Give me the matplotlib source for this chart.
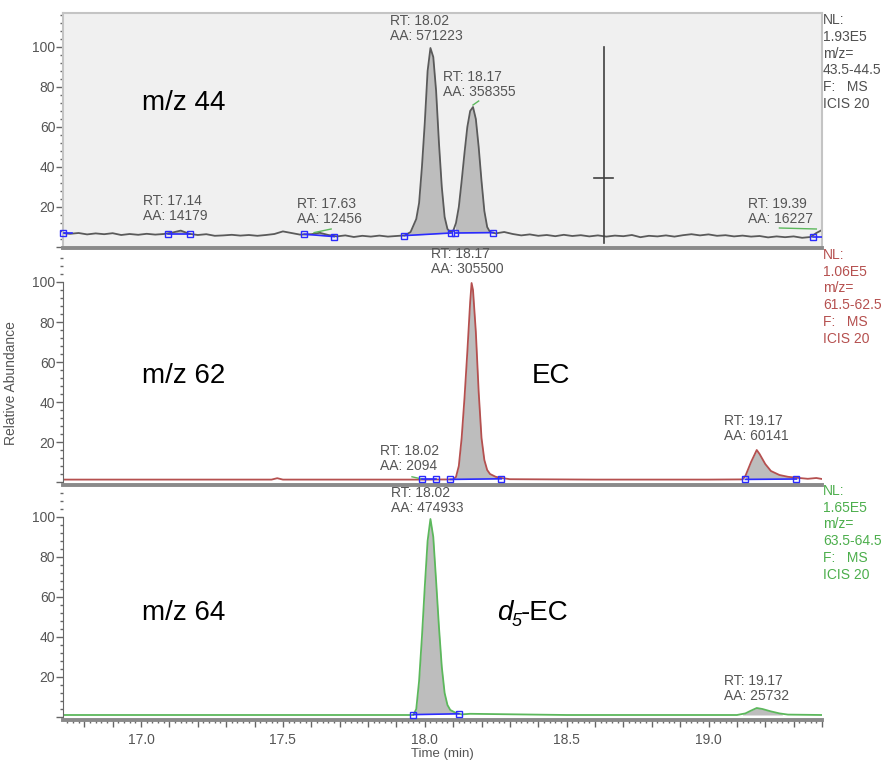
import numpy as np
import matplotlib
matplotlib.use('Agg')
import matplotlib.pyplot as plt
from matplotlib.ticker import MultipleLocator, FuncFormatter

plt.rcParams['font.family'] = ['Liberation Sans', 'DejaVu Sans']

W, H = 887, 763

# m/z 44 trace (time in min, relative abundance)
t44 = [16.72, 16.75, 16.78, 16.81, 16.84, 16.87, 16.90, 16.93, 16.96, 16.99, 17.02, 17.05,
       17.08, 17.11, 17.14, 17.17, 17.20, 17.23, 17.26, 17.29, 17.32, 17.35, 17.38, 17.41,
       17.44, 17.47, 17.50, 17.53, 17.56, 17.60, 17.63, 17.66, 17.69, 17.72, 17.75, 17.78,
       17.81, 17.84, 17.87, 17.90, 17.93, 17.95, 17.97, 17.98, 17.99, 18.00, 18.01, 18.02,
       18.03, 18.04, 18.05, 18.06, 18.07, 18.08, 18.09, 18.10, 18.11, 18.12, 18.13, 18.14,
       18.15, 18.16, 18.17, 18.18, 18.19, 18.20, 18.21, 18.22, 18.23, 18.25, 18.28, 18.31,
       18.34, 18.37, 18.40, 18.43, 18.46, 18.49, 18.52, 18.55, 18.58, 18.61, 18.64, 18.67,
       18.70, 18.73, 18.76, 18.79, 18.82, 18.85, 18.88, 18.91, 18.94, 18.97, 19.00, 19.03,
       19.06, 19.09, 19.12, 19.15, 19.18, 19.21, 19.24, 19.27, 19.30, 19.33, 19.36, 19.38, 19.40]
y44 = [7.0, 6.6, 7.0, 6.3, 6.8, 6.4, 6.9, 6.0, 6.5, 6.1, 6.6, 6.2,
       6.5, 7.2, 8.2, 6.6, 6.0, 6.4, 5.6, 5.8, 6.1, 5.7, 6.0, 5.6,
       6.0, 6.5, 7.8, 7.0, 6.2, 6.4, 7.1, 6.0, 5.3, 5.8, 5.0, 5.6,
       5.2, 5.7, 5.2, 5.5, 5.8, 7.5, 14, 22, 40, 62, 88, 99.5,
       95, 78, 52, 30, 15, 9, 7.5, 8, 12, 20, 33, 47,
       60, 68, 70, 64, 50, 33, 18, 10, 7.5, 6.8, 7.5, 6.5,
       5.8, 6.3, 5.6, 6.0, 5.4, 6.1, 5.5, 5.9, 5.3, 5.8, 5.2, 5.7,
       5.4, 6.0, 4.9, 5.6, 5.3, 5.8, 5.2, 5.9, 6.4, 5.8, 6.3, 5.6,
       5.9, 5.3, 5.7, 5.2, 5.5, 4.8, 5.3, 4.9, 5.3, 4.6, 5.0, 7.0, 8.5]

# m/z 62 trace
t62 = [16.72, 17.00, 17.30, 17.46, 17.48, 17.50, 17.80, 18.00, 18.10, 18.11, 18.12, 18.13,
       18.14, 18.15, 18.16, 18.165, 18.17, 18.18, 18.19, 18.20, 18.21, 18.22, 18.23, 18.25,
       18.27, 18.30, 18.60, 19.00, 19.12, 19.13, 19.15, 19.17, 19.18, 19.20, 19.22, 19.25,
       19.28, 19.32, 19.35, 19.38, 19.40]
y62 = [1.2, 1.2, 1.2, 1.2, 1.9, 1.2, 1.2, 1.2, 1.3, 2.5, 8, 22,
       42, 65, 90, 99.5, 96, 75, 45, 22, 11, 6, 4, 2.6,
       2.0, 1.4, 1.2, 1.2, 1.3, 3, 10, 16, 14, 9, 5.5, 3.5,
       2.6, 2.0, 1.6, 2.0, 1.5]

# m/z 64 trace
t64 = [16.72, 17.20, 17.60, 17.96, 17.97, 17.98, 17.99, 18.00, 18.01, 18.02, 18.03, 18.04,
       18.05, 18.06, 18.07, 18.08, 18.09, 18.11, 18.13, 18.16, 18.50, 19.10, 19.13, 19.15,
       19.17, 19.19, 19.22, 19.25, 19.28, 19.40]
y64 = [1.0, 1.0, 1.0, 1.0, 4, 18, 40, 65, 88, 99, 90, 68,
       45, 25, 12, 6, 3.5, 2.0, 1.3, 1.6, 1.0, 1.0, 1.8, 3.2,
       4.5, 4.0, 2.8, 1.8, 1.2, 1.0]

# integration baselines: (start, value, end, value)
base44 = [(17.095, 6.4, 17.173, 6.4), (17.575, 6.4, 17.681, 5.2),
          (17.928, 5.7, 18.093, 7.0), (18.108, 7.0, 18.242, 7.2)]
edge44 = [(16.725, 7.0), (19.367, 5.0)]
base62 = [(17.99, 1.3, 18.04, 1.3), (18.09, 1.3, 18.27, 1.6), (19.13, 1.3, 19.31, 1.5)]
base64 = [(17.96, 1.2, 18.12, 1.6)]
fill64_extra = [(19.12, 1.0, 19.26, 1.0)]

# peak labels: (left px, cap-top px, text)
lab44 = [(143, 197, 'RT: 17.14\nAA: 14179'), (297, 200, 'RT: 17.63\nAA: 12456'),
         (390, 17, 'RT: 18.02\nAA: 571223'), (443, 73, 'RT: 18.17\nAA: 358355'),
         (748, 200, 'RT: 19.39\nAA: 16227')]
lab62 = [(431, 250, 'RT: 18.17\nAA: 305500'), (380, 447, 'RT: 18.02\nAA: 2094'),
         (724, 417, 'RT: 19.17\nAA: 60141')]
lab64 = [(391, 489, 'RT: 18.02\nAA: 474933'), (724, 677, 'RT: 19.17\nAA: 25732')]

info44 = 'NL:\n1.93E5\nm/z=\n43.5-44.5\nF:   MS\nICIS 20'
info62 = 'NL:\n1.06E5\nm/z=\n61.5-62.5\nF:   MS\nICIS 20'
info64 = 'NL:\n1.65E5\nm/z=\n63.5-64.5\nF:   MS\nICIS 20'

XLIM = (16.725, 19.40)
BLUE = '#2b2bff'
FILL = '#bdbdbd'
AXC = '#8a8a8a'
TXT = '#555555'

fig = plt.figure(figsize=(W / 100, H / 100), dpi=100)


def make_ax(top_px, bot_px, lo, hi):
    ax = fig.add_axes([63 / W, 1 - bot_px / H, 759 / W, (bot_px - top_px) / H])
    ax.set_xlim(*XLIM)
    ax.set_ylim(lo, hi)
    ax.yaxis.set_major_locator(MultipleLocator(20))
    ax.yaxis.set_minor_locator(MultipleLocator(4))
    ax.yaxis.set_major_formatter(FuncFormatter(lambda v, p: '' if v <= 0 else '%d' % v))
    ax.tick_params(axis='y', which='major', length=5, width=1, color='#666666',
                   labelsize=10, labelcolor=TXT, pad=0.5)
    ax.tick_params(axis='y', which='minor', length=2.5, width=1, color='#666666')
    ax.spines['bottom'].set_color(AXC)
    ax.spines['bottom'].set_linewidth(2.8)
    return ax


def draw_trace(ax, t, y, color, bases, extra=()):
    for a, ba, b, bb in list(bases) + list(extra):
        tt = np.linspace(a, b, 120)
        ax.fill_between(tt, np.interp(tt, t, y), np.interp(tt, [a, b], [ba, bb]),
                        color=FILL, lw=0, zorder=1)
    ax.plot(t, y, color=color, lw=1.3, zorder=2)
    for a, ba, b, bb in bases:
        ax.plot([a, b], [ba, bb], color=BLUE, lw=1.2, marker='s', ms=5,
                mfc='none', mec=BLUE, mew=1, zorder=3)


# ---- panel 1: m/z 44
ax1 = make_ax(13, 248, -0.5, 117)
ax1.set_facecolor('#f0f0f0')
for s in ['top', 'left', 'right']:
    ax1.spines[s].set_color('#c4c4c4')
    ax1.spines[s].set_linewidth(1.5)
ax1.set_xticks([])
draw_trace(ax1, t44, y44, '#5a5a5a', base44)
for tx, vy in edge44:
    ax1.plot([tx, tx + 0.03 if tx < 18 else XLIM[1]], [vy, vy], color=BLUE, lw=1.2, zorder=3)
    ax1.plot([tx], [vy], marker='s', ms=5, mfc='none', mec=BLUE, mew=1, zorder=4,
             clip_on=False)
# small apex ticks
ax1.plot([17.61, 17.67], [7.2, 9.0], color='#5cb85c', lw=1)
ax1.plot([18.17, 18.19], [71, 73], color='#5cb85c', lw=1)
ax1.plot([19.25, 19.38], [9.5, 9.0], color='#5cb85c', lw=1)
# cursor cross
ax1.plot([18.63, 18.63], [2, 100], color='#404040', lw=1.2)
ax1.plot([18.595, 18.665], [34.5, 34.5], color='#404040', lw=1.2)

# ---- panel 2: m/z 62
ax2 = make_ax(258, 484.5, -1.25, 112)
for s in ['top', 'right']:
    ax2.spines[s].set_visible(False)
ax2.spines['left'].set_color('#666666')
ax2.spines['left'].set_bounds(-1.25, 100)
ax2.set_xticks([])
draw_trace(ax2, t62, y62, '#b5504f', base62)
ax2.plot([17.955, 17.99], [2.6, 1.5], color='#5cb85c', lw=1)
ax2.set_ylabel('Relative Abundance', fontsize=10, color=TXT, labelpad=2)
ax2.yaxis.set_label_coords(-45 / 759, 0.45)

# ---- panel 3: m/z 64
ax3 = make_ax(493, 720, -1.5, 112)
for s in ['top', 'right']:
    ax3.spines[s].set_visible(False)
ax3.spines['left'].set_color('#666666')
ax3.spines['left'].set_bounds(-1.5, 100)
draw_trace(ax3, t64, y64, '#5cb85c', base64, fill64_extra)
ax3.xaxis.set_major_locator(MultipleLocator(0.1))
ax3.xaxis.set_minor_locator(MultipleLocator(0.02))
ax3.xaxis.set_major_formatter(FuncFormatter(
    lambda v, p: '%.1f' % v if abs(v * 2 - round(v * 2)) < 1e-6 else ''))
ax3.tick_params(axis='x', which='major', length=5, width=1, color='#666666',
                labelsize=10, labelcolor=TXT, pad=4)
ax3.tick_params(axis='x', which='minor', length=2.5, width=1, color='#666666')
ax3.set_xlabel('Time (min)', fontsize=9.5, color=TXT, labelpad=1)

# ---- texts
def put(x, y, s, **kw):
    fig.text(x / W, 1 - y / H, s, **kw)


for lab in (lab44, lab62, lab64):
    for x, y, s in lab:
        put(x, y - 3, s, fontsize=10, color=TXT, va='top', ha='left', linespacing=1.05)

put(823, 13, info44, fontsize=10, color='#505050', va='top', ha='left', linespacing=1.25)
put(823, 248, info62, fontsize=10, color='#b5504f', va='top', ha='left', linespacing=1.25)
put(823, 484, info64, fontsize=10, color='#4cae4c', va='top', ha='left', linespacing=1.25)

put(142, 110, 'm/z 44', fontsize=20, color='black', va='baseline', ha='left')
put(142, 383, 'm/z 62', fontsize=20, color='black', va='baseline', ha='left')
put(532, 383, 'EC', fontsize=20, color='black', va='baseline', ha='left')
put(142, 620, 'm/z 64', fontsize=20, color='black', va='baseline', ha='left')
# d5-EC built from pieces so the subscript stays italic
put(497, 620, 'd', fontsize=20, style='italic', color='black', va='baseline', ha='left')
put(512, 626, '5', fontsize=13, style='italic', color='black', va='baseline', ha='left')
put(521, 620, '-EC', fontsize=20, color='black', va='baseline', ha='left')

fig.savefig('out.png', dpi=100)
